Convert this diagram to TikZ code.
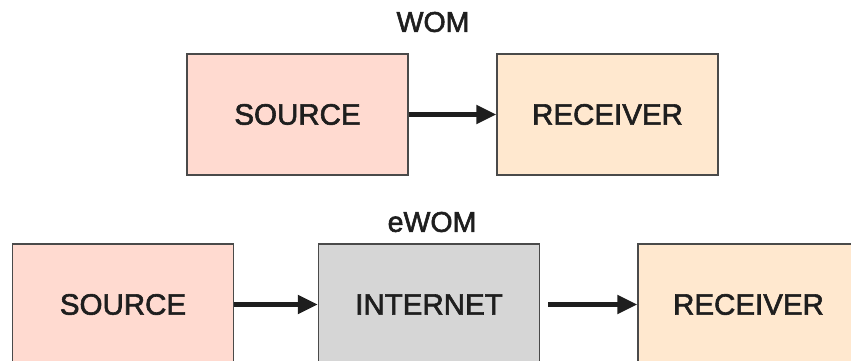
\documentclass[tikz,border=0pt]{standalone}
\usepackage{fontspec}
\setmainfont{Liberation Sans}
\newfontfamily\labelfont[FakeBold=2]{Liberation Sans}
\usetikzlibrary{arrows.meta}
\definecolor{srcfill}{HTML}{FFDAD0}
\definecolor{rcvfill}{HTML}{FFE8CF}
\definecolor{netfill}{HTML}{D6D6D6}
\definecolor{edge}{HTML}{4A4A4A}
\definecolor{ink}{HTML}{1E1E1E}
\begin{document}
\begin{tikzpicture}[x=1pt,y=1pt,
  box/.style={draw=edge, line width=1.3pt, minimum width=221pt, minimum height=121pt,
    inner sep=0pt, text=ink, font=\labelfont\fontsize{29.5}{33}\selectfont},
  title/.style={text=ink, font=\labelfont\fontsize{28.5}{32}\selectfont, inner sep=0pt},
  conn/.style={line width=4.8pt, ink, -{Triangle[length=20pt,width=18pt]}}]
\useasboundingbox (0,0) rectangle (851,361);
\clip (0,0) rectangle (851,361);
% WOM
\node[title] (wom) at (433,339) {WOM};
\node[box, fill=srcfill] (s1) at (297.5,246.5) {SOURCE};
\node[box, fill=rcvfill] (r1) at (607.5,246.5) {RECEIVER};
\draw[conn] (s1.east) -- (r1.west);
% eWOM
\node[title] (ewom) at (432,139) {eWOM};
\node[box, fill=srcfill] (s2) at (123,56.5) {SOURCE};
\node[box, fill=netfill] (n2) at (429,56.5) {INTERNET};
\node[box, fill=rcvfill] (r2) at (748.5,56.5) {RECEIVER};
\draw[conn] (s2.east) -- (n2.west);
\draw[conn, shorten <=8pt] (n2.east) -- (r2.west);
\end{tikzpicture}
\end{document}
